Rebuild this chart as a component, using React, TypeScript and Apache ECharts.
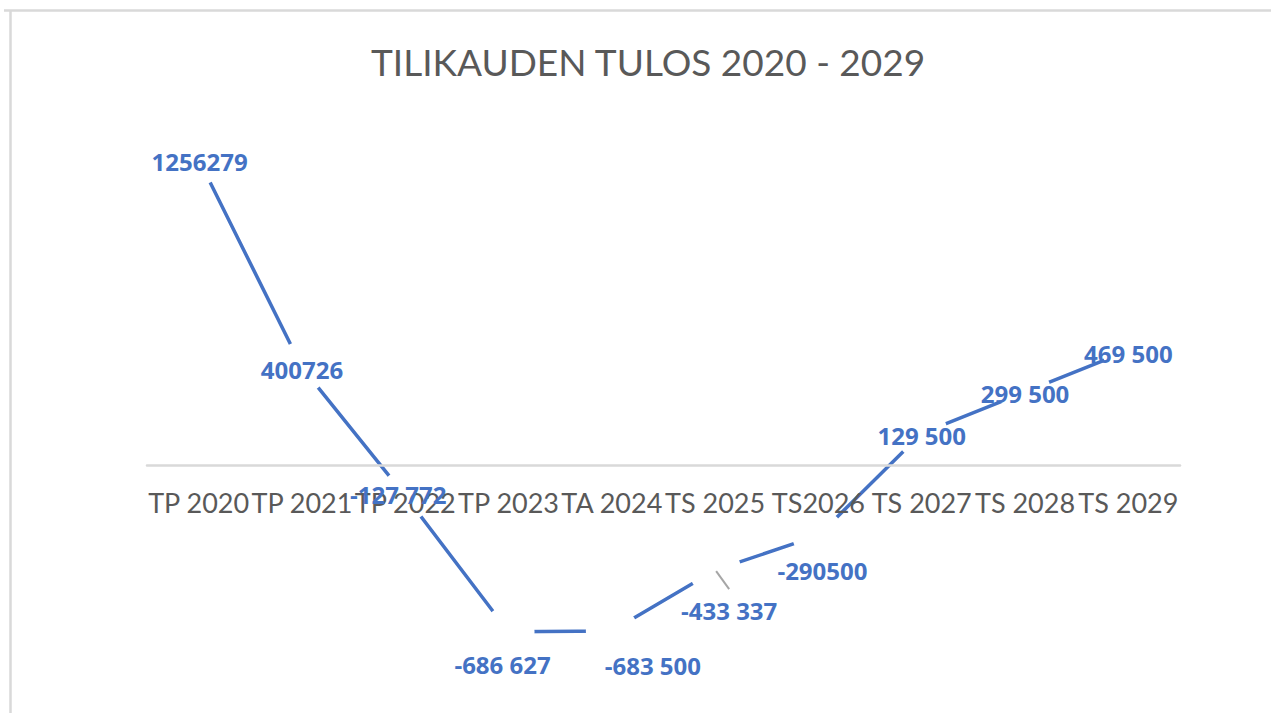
import React, { useEffect, useRef } from "react";
import * as echarts from "echarts";

const categories = ["TP 2020", "TP 2021", "TP 2022", "TP 2023", "TA 2024", "TS 2025", "TS2026", "TS 2027", "TS 2028", "TS 2029"];
const values = [1256279, 400726, -127772, -686627, -683500, -433337, -290500, 129500, 299500, 469500];
const labelTexts = ["1256279", "400726", "-127 772", "-686 627", "-683 500", "-433 337", "-290500", "129 500", "299 500", "469 500"];
const labelOffsets: [number, number][] = [[1, 2], [0, 2], [-7, -1], [-6, 33], [41, 34], [14, 40], [4, 35], [0, 2], [0, 2], [0, 3]];
const leaderIndex = 5;
const yMin = -1000000;
const yMax = 1500000;

const BLUE = "#4472C4";
const GRAY = "#595959";
const FONT = "Lato";

const GRID_TOP = 100;
const GRID_BOTTOM = 5;
const HEIGHT = 713;

export default function App() {
  const ref = useRef<HTMLDivElement>(null);
  useEffect(() => {
    if (!ref.current) return;
    const chart = echarts.init(ref.current, undefined, { renderer: "svg" });
    const gridH = HEIGHT - GRID_TOP - GRID_BOTTOM;
    const zeroOffset = ((0 - yMin) / (yMax - yMin)) * gridH;
    chart.setOption({
      animation: false,
      backgroundColor: "#fff",
      title: {
        text: "TILIKAUDEN TULOS 2020 - 2029",
        left: 366,
        top: 38,
        textStyle: { fontSize: 37, fontWeight: "normal", color: GRAY, fontFamily: FONT },
      },
      graphic: [
        { type: "line", shape: { x1: 4, y1: 10.5, x2: 1271, y2: 10.5 }, style: { stroke: "#d9d9d9", lineWidth: 2.5 }, silent: true },
        { type: "line", shape: { x1: 10.5, y1: 10, x2: 10.5, y2: 713 }, style: { stroke: "#d9d9d9", lineWidth: 2.5 }, silent: true },
      ],
      grid: { left: 147, right: 91, top: GRID_TOP, bottom: GRID_BOTTOM, containLabel: false, outerBoundsMode: "none" },
      xAxis: {
        type: "category",
        data: categories,
        boundaryGap: true,
        position: "bottom",
        offset: -zeroOffset,
        z: 5,
        axisTick: { show: false },
        axisLine: { onZero: false, lineStyle: { color: "#d9d9d9", width: 2.5 } },
        axisLabel: { interval: 0, color: GRAY, fontSize: 27, fontFamily: FONT, margin: 24 },
      },
      yAxis: {
        type: "value",
        min: yMin,
        max: yMax,
        show: false,
        splitLine: { show: false },
      },
      series: [
        {
          type: "line",
          data: values,
          z: 2,
          silent: true,
          symbol: "circle",
          symbolSize: 52,
          showAllSymbol: true,
          itemStyle: { color: "#fff", borderWidth: 0 },
          lineStyle: { color: BLUE, width: 3.5 },
          emphasis: { disabled: true },
        },
        {
          type: "custom",
          z: 6,
          silent: true,
          data: [[leaderIndex, values[leaderIndex]]],
          renderItem: (params: any, api: any) => {
            const p = api.coord([api.value(0), api.value(1)]);
            return {
              type: "line",
              shape: { x1: p[0] + 1, y1: p[1] + 1, x2: p[0] + 14, y2: p[1] + 19 },
              style: { stroke: "#a6a6a6", lineWidth: 2 },
            };
          },
        },
        {
          type: "scatter",
          z: 8,
          silent: true,
          symbolSize: 0,
          itemStyle: { opacity: 1, color: BLUE },
          data: values.map((v, i) => ({ value: v, label: { offset: labelOffsets[i] } })),
          label: {
            show: true,
            position: "inside",
            color: BLUE,
            fontSize: 24,
            fontWeight: "bold",
            fontFamily: "Open Sans",
            formatter: (p: any) => labelTexts[p.dataIndex],
          },
          emphasis: { disabled: true },
        },
      ],
    });
    return () => chart.dispose();
  }, []);
  return <div ref={ref} style={{ position: "fixed", left: 0, top: 0, width: 1271, height: 713 }} />;
}
